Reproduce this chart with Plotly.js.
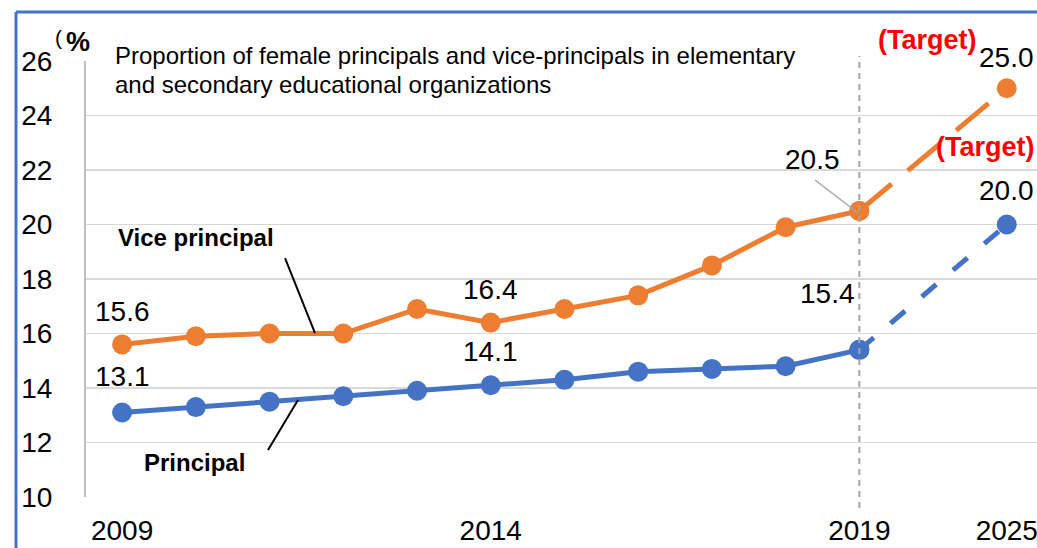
<!DOCTYPE html>
<html>
<head>
<meta charset="utf-8">
<script src="https://cdn.plot.ly/plotly-3.0.1.min.js"></script>
<style>html,body{margin:0;padding:0;background:#fff;}#chart{width:1037px;height:548px;}</style>
</head>
<body>
<div id="chart"></div>
<script>
// ---- data ----
const categories = ['2009','2010','2011','2012','2013','2014','2015','2016','2017','2018','2019',' ','2025'];
const actualYears = ['2009','2010','2011','2012','2013','2014','2015','2016','2017','2018','2019'];
const targetYears = ['2019','2025'];
const vicePrincipal = [15.6,15.9,16.0,16.0,16.9,16.4,16.9,17.4,18.5,19.9,20.5];
const viceTarget = [20.5,25.0];
const principal = [13.1,13.3,13.5,13.7,13.9,14.1,14.3,14.6,14.7,14.8,15.4];
const principalTarget = [15.4,20.0];
const tickYears = ['2009','2014','2019','2025'];
const yTicks = [10,12,14,16,18,20,22,24,26];
const titleLines = ['Proportion of female principals and vice-principals in elementary','and secondary educational organizations'];

const ORANGE = '#ED7D31', BLUE = '#4472C4';
const FONT = 'Arial, "Liberation Sans", sans-serif';
const ci = c => categories.indexOf(c);

const traces = [
  {x: targetYears, y: viceTarget, mode:'lines+markers', line:{color:ORANGE,width:5,dash:'42px,21px'}, marker:{color:ORANGE,size:20}, hoverinfo:'skip'},
  {x: targetYears, y: principalTarget, mode:'lines+markers', line:{color:BLUE,width:5,dash:'19px,22px'}, marker:{color:BLUE,size:20}, hoverinfo:'skip'},
  {x: actualYears, y: vicePrincipal, mode:'lines+markers', line:{color:ORANGE,width:5}, marker:{color:ORANGE,size:20}, hoverinfo:'skip'},
  {x: actualYears, y: principal, mode:'lines+markers', line:{color:BLUE,width:5}, marker:{color:BLUE,size:20}, hoverinfo:'skip'}
];

const numFont = {family:FONT, size:28, color:'#000'};
function lab(c, y, xs, ys){
  return {x:ci(c), y:y, xref:'x', yref:'y', text:y.toFixed(1), showarrow:false, xanchor:'center', yanchor:'middle', xshift:xs, yshift:ys, font:numFont};
}
const i2014 = actualYears.indexOf('2014');
const lastV = vicePrincipal[vicePrincipal.length-1];
const targetFont = {family:FONT,size:27,color:'#FF0000'};
const annotations = [
  lab('2009', vicePrincipal[0], 0, 33),
  lab('2009', principal[0], 0, 36),
  lab('2014', vicePrincipal[i2014], 0, 33),
  lab('2014', principal[i2014], 0, 34),
  lab('2019', principal[principal.length-1], -32, 56),
  lab('2019', lastV, -47, 51),
  lab('2025', viceTarget[1], 0, 31),
  lab('2025', principalTarget[1], 0, 34),
  {x:ci('2025'), y:viceTarget[1], xref:'x', yref:'y', text:'<b>(Target)</b>', showarrow:false, xanchor:'center', yanchor:'middle', xshift:-79, yshift:48, font:targetFont},
  {x:ci('2025'), y:principalTarget[1], xref:'x', yref:'y', text:'<b>(Target)</b>', showarrow:false, xanchor:'center', yanchor:'middle', xshift:-21, yshift:78, font:targetFont},
  {x:0.0284, y:1.0115, xref:'paper', yref:'paper', xanchor:'left', yanchor:'middle', text:titleLines[0], showarrow:false, font:{family:FONT,size:24,color:'#000'}},
  {x:0.0284, y:0.945, xref:'paper', yref:'paper', xanchor:'left', yanchor:'middle', text:titleLines[1], showarrow:false, font:{family:FONT,size:24,color:'#000'}},
  {x:0.1156, y:0.5963, xref:'paper', yref:'paper', xanchor:'center', yanchor:'middle', text:'<b>Vice principal</b>', showarrow:false, font:{family:FONT,size:24,color:'#000'}},
  {x:0.1146, y:0.078, xref:'paper', yref:'paper', xanchor:'center', yanchor:'middle', text:'<b>Principal</b>', showarrow:false, font:{family:FONT,size:24,color:'#000'}},
  {x:-0.0294, y:1.0528, xref:'paper', yref:'paper', xanchor:'center', yanchor:'middle', text:'(', showarrow:false, font:{family:FONT,size:21,color:'#000'}},
  {x:-0.0084, y:1.0436, xref:'paper', yref:'paper', xanchor:'center', yanchor:'middle', text:'<b>%</b>', showarrow:false, font:{family:FONT,size:27,color:'#000'}}
];

const shapes = [
  {type:'line', xref:'x', yref:'paper', x0:ci('2019'), x1:ci('2019'), y0:-0.025, y1:1.0115, line:{color:'#a6a6a6', width:2, dash:'6px,5px'}},
  {type:'line', xref:'paper', yref:'paper', x0:0.7666, y0:0.7271, x1:0.8118, y1:0.6514, line:{color:'#a6a6a6', width:1.5}},
  {type:'line', xref:'paper', yref:'paper', x0:0.2093, y0:0.548, x1:0.2408, y1:0.3761, line:{color:'#000', width:2}},
  {type:'line', xref:'paper', yref:'paper', x0:0.1914, y0:0.1078, x1:0.2229, y1:0.2225, line:{color:'#000', width:2}},
  {type:'line', xref:'paper', yref:'paper', x0:-0.0736, y0:-0.2, x1:-0.0736, y1:1.1124, line:{color:BLUE, width:3}},
  {type:'line', xref:'paper', yref:'paper', x0:-0.0736, y0:1.1124, x1:1.1, y1:1.1124, line:{color:BLUE, width:3}}
];

const layout = {
  width:1037, height:548,
  margin:{l:86, r:0, t:61, b:51},
  paper_bgcolor:'#fff', plot_bgcolor:'#fff',
  showlegend:false,
  xaxis:{type:'category', categoryorder:'array', categoryarray:categories, range:[-0.49,12.41],
         tickmode:'array', tickvals:tickYears, ticktext:tickYears, showgrid:false, zeroline:false, showline:false,
         ticks:'', ticklabelstandoff:14, tickfont:{family:FONT,size:28,color:'#000'}},
  yaxis:{range:[10,26], tickmode:'array', tickvals:yTicks, showgrid:true, gridcolor:'#d9d9d9', gridwidth:1.5,
         zeroline:false, showline:true, linecolor:'#bfbfbf', linewidth:2, ticks:'', ticklabelstandoff:26,
         tickfont:{family:FONT,size:28,color:'#000'}},
  annotations:annotations, shapes:shapes
};

Plotly.newPlot('chart', traces, layout, {staticPlot:true, displayModeBar:false});
</script>
</body>
</html>
